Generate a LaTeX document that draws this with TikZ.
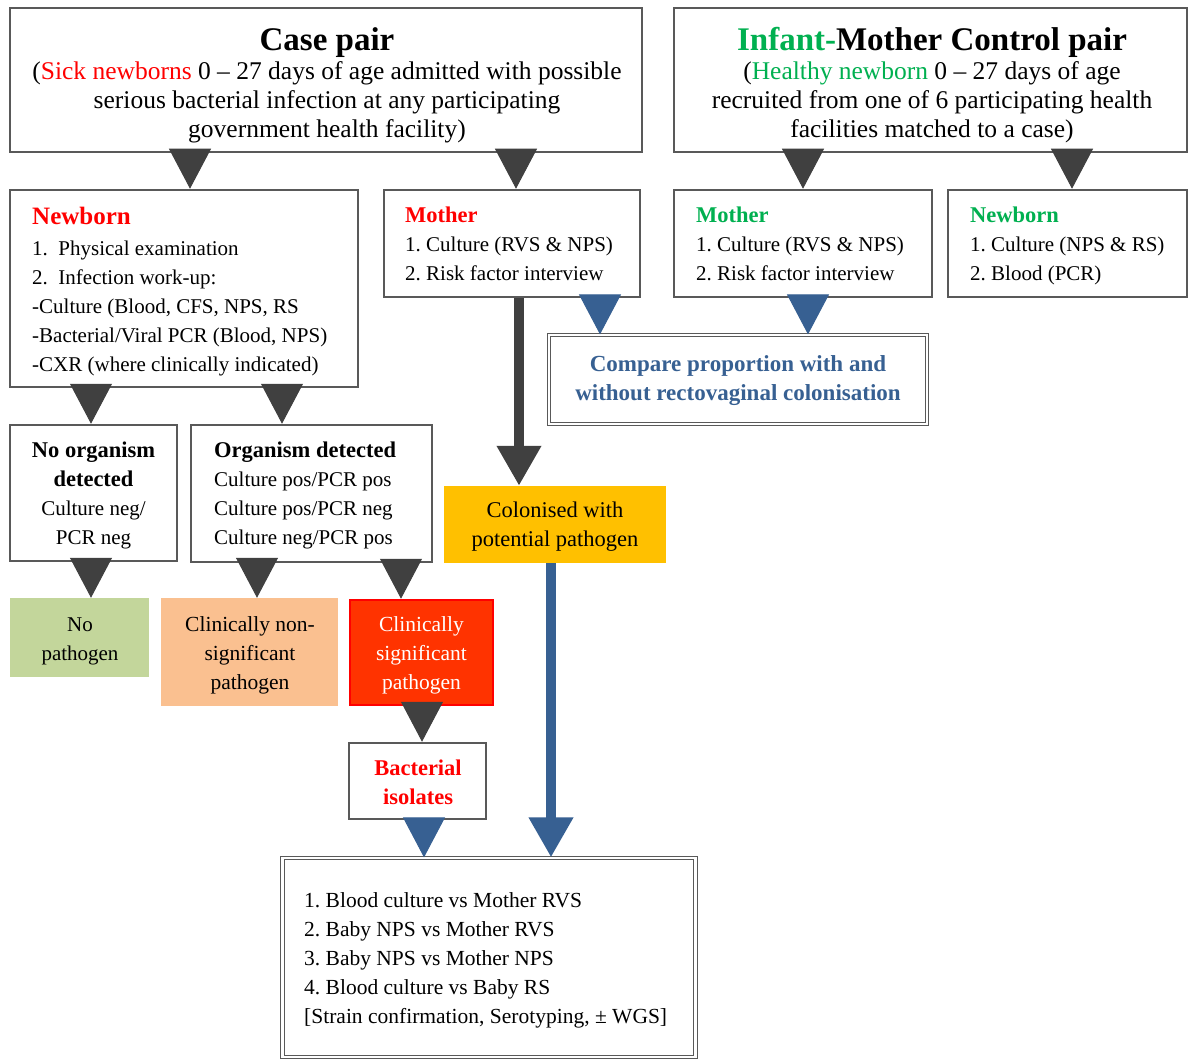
\documentclass[tikz,border=0pt]{standalone}
\usepackage{fontspec}
\setmainfont{Liberation Serif}
\usetikzlibrary{arrows.meta}
\definecolor{bord}{HTML}{595959}
\definecolor{darr}{HTML}{404040}
\definecolor{barr}{HTML}{376092}
\definecolor{tred}{HTML}{FF0000}
\definecolor{tgreen}{HTML}{00B050}
\definecolor{tblue}{HTML}{376092}
\definecolor{fyel}{HTML}{FFC000}
\definecolor{fgreen}{HTML}{C3D69B}
\definecolor{forange}{HTML}{FAC090}
\definecolor{fred}{HTML}{FF3300}
\newcommand\myfs{\fontsize{21}{29}\selectfont}
\newcommand\mytopfs{\fontsize{25.5}{29}\selectfont}
\newcommand\mytitle{\fontsize{33}{34}\selectfont\bfseries}
\newcommand\myhead[1]{{\fontsize{22.5}{29}\selectfont\bfseries #1}}
\begin{document}
\frenchspacing
\begin{tikzpicture}[x=1pt,y=-1pt,
  box/.style={draw=bord,line width=2.5pt,fill=white,rectangle,inner sep=0pt},
  dbox/.style={rectangle,draw=bord,line width=1.2pt,double=white,double distance=2.5pt,fill=white,inner sep=0pt},
  fbox/.style={rectangle,inner sep=0pt},
  txt/.style={inner sep=0pt,font=\myfs,align=center},
  ltxt/.style={inner sep=0pt,font=\myfs,align=left,anchor=west},
  darrow/.style={draw=darr,color=darr,line width=1pt,-{Triangle[width=42pt,length=40pt]}},
  barrow/.style={draw=barr,color=barr,line width=1pt,-{Triangle[width=42pt,length=40pt]}},
  dthick/.style={darrow,line width=10pt},
  bthick/.style={barrow,line width=10pt}]
\useasboundingbox (0,0) rectangle (1188,1059);

% boxes
\node[box,minimum width=632pt,minimum height=144pt] (case) at (326,80) {};
\node[box,minimum width=513pt,minimum height=144pt] (ctrl) at (930.5,80) {};
\node[box,minimum width=348pt,minimum height=197pt] (nb) at (184,288.5) {};
\node[box,minimum width=256pt,minimum height=107pt] (mom1) at (512,243.5) {};
\node[box,minimum width=258pt,minimum height=107pt] (mom2) at (803,243.5) {};
\node[box,minimum width=239pt,minimum height=107pt] (nb2) at (1067.5,243.5) {};
\node[dbox,minimum width=378pt,minimum height=89pt] (cmp) at (738,379.5) {};
\node[box,minimum width=167pt,minimum height=136pt] (noorg) at (93.5,493) {};
\node[box,minimum width=241pt,minimum height=137pt] (org) at (311.5,493.5) {};
\node[fbox,fill=fyel,minimum width=222pt,minimum height=77pt] (col) at (555,524.5) {};
\node[fbox,fill=fgreen,minimum width=139pt,minimum height=79pt] (nop) at (79.5,637.5) {};
\node[fbox,fill=forange,minimum width=177pt,minimum height=108pt] (nons) at (249.5,652) {};
\node[fbox,fill=fred,draw=tred,line width=2.5pt,minimum width=143pt,minimum height=105pt] (sig) at (421.5,652.5) {};
\node[box,minimum width=137pt,minimum height=76pt] (bact) at (417.5,781) {};
\node[dbox,minimum width=413pt,minimum height=199pt] (fin) at (489,957.5) {};

% texts
\node[txt,font=\mytopfs] (case-t) at (327,85.5)
 {{\mytitle Case pair}\\
  (\textcolor{tred}{Sick newborns} 0 – 27 days of age admitted with possible\\
  serious bacterial infection at any participating\\
  government health facility)};
\node[txt,font=\mytopfs] (ctrl-t) at (932,85.5)
 {{\mytitle \textcolor{tgreen}{Infant-}Mother Control pair}\\
  (\textcolor{tgreen}{Healthy newborn} 0 – 27 days of age\\
  recruited from one of 6 participating health\\
  facilities matched to a case)};
\node[ltxt] (nb-t) at (32,292)
 {{\fontsize{25}{29}\selectfont\bfseries\color{tred}Newborn}\\[2pt]
  1.\ \ Physical examination\\
  2.\ \ Infection work-up:\\
  -Culture (Blood, CFS, NPS, RS\\
  -Bacterial/Viral PCR (Blood, NPS)\\
  -CXR (where clinically indicated)};
\node[ltxt] (mom1-t) at (405,243.5)
 {\textcolor{tred}{\myhead{Mother}}\\
  1. Culture (RVS \& NPS)\\
  2. Risk factor interview};
\node[ltxt] (mom2-t) at (696,243.5)
 {\textcolor{tgreen}{\myhead{Mother}}\\
  1. Culture (RVS \& NPS)\\
  2. Risk factor interview};
\node[ltxt] (nb2-t) at (970,245.5)
 {\textcolor{tgreen}{\myhead{Newborn}}\\
  1. Culture (NPS \& RS)\\
  2. Blood (PCR)};
\node[txt,font=\fontsize{23}{29}\selectfont\bfseries,text=tblue] (cmp-t) at (738,381)
 {Compare proportion with and\\ without rectovaginal colonisation};
\node[txt] (noorg-t) at (93.5,495.5)
 {\myhead{No organism}\\ \myhead{detected}\\ Culture neg/\\ PCR neg};
\node[ltxt] (org-t) at (214,495)
 {\myhead{Organism detected}\\
  Culture pos/PCR pos\\
  Culture pos/PCR neg\\
  Culture neg/PCR pos};
\node[txt,font=\fontsize{22.5}{29}\selectfont] (col-t) at (555,527)
 {Colonised with\\ potential pathogen};
\node[txt] (nop-t) at (80,641) {No\\ pathogen};
\node[txt,font=\fontsize{21.5}{29}\selectfont] (nons-t) at (250,655)
 {Clinically non-\\ significant\\ pathogen};
\node[txt,font=\fontsize{21.5}{29}\selectfont,text=white] (sig-t) at (421.5,655.5)
 {Clinically\\ significant\\ pathogen};
\node[txt,text=tred] (bact-t) at (418,782)
 {\myhead{Bacterial}\\ \myhead{isolates}};
\node[ltxt,font=\fontsize{21.5}{29}\selectfont] (fin-t) at (304,960)
 {1. Blood culture vs Mother RVS\\
  2. Baby NPS vs Mother RVS\\
  3. Baby NPS vs Mother NPS\\
  4. Blood culture vs Baby RS\\
  {[}Strain confirmation, Serotyping, ± WGS{]}};

% arrow x-positions
\coordinate (a1) at (190,0);
\coordinate (a2) at (516,0);
\coordinate (a3) at (803,0);
\coordinate (a4) at (1072,0);
\coordinate (a5) at (600,0);
\coordinate (a6) at (808,0);
\coordinate (a7) at (519,0);
\coordinate (a8) at (91,0);
\coordinate (a9) at (282,0);
\coordinate (a10) at (257,0);
\coordinate (a11) at (401,0);
\coordinate (a12) at (422,0);
\coordinate (a13) at (424,0);
\coordinate (a14) at (551,0);

\draw[darrow] (case.south -| a1) -- (nb.north -| a1);
\draw[darrow] (case.south -| a2) -- (mom1.north -| a2);
\draw[darrow] (ctrl.south -| a3) -- (mom2.north -| a3);
\draw[darrow] (ctrl.south -| a4) -- (nb2.north -| a4);
\draw[barrow] (mom1.south -| a5) -- (cmp.north -| a5);
\draw[barrow] (mom2.south -| a6) -- (cmp.north -| a6);
\draw[dthick] (mom1.south -| a7) -- (col.north -| a7);
\draw[darrow] (nb.south -| a8) -- (noorg.north -| a8);
\draw[darrow] (nb.south -| a9) -- (org.north -| a9);
\draw[darrow] (noorg.south -| a8) -- (nop.north -| a8);
\draw[darrow] (org.south -| a10) -- (nons.north -| a10);
\draw[darrow] (org.south -| a11) -- (sig.north -| a11);
\draw[darrow] (sig.south -| a12) -- (bact.north -| a12);
\draw[barrow] (bact.south -| a13) -- (fin.north -| a13);
\draw[bthick] (col.south -| a14) -- (fin.north -| a14);
\end{tikzpicture}
\end{document}
